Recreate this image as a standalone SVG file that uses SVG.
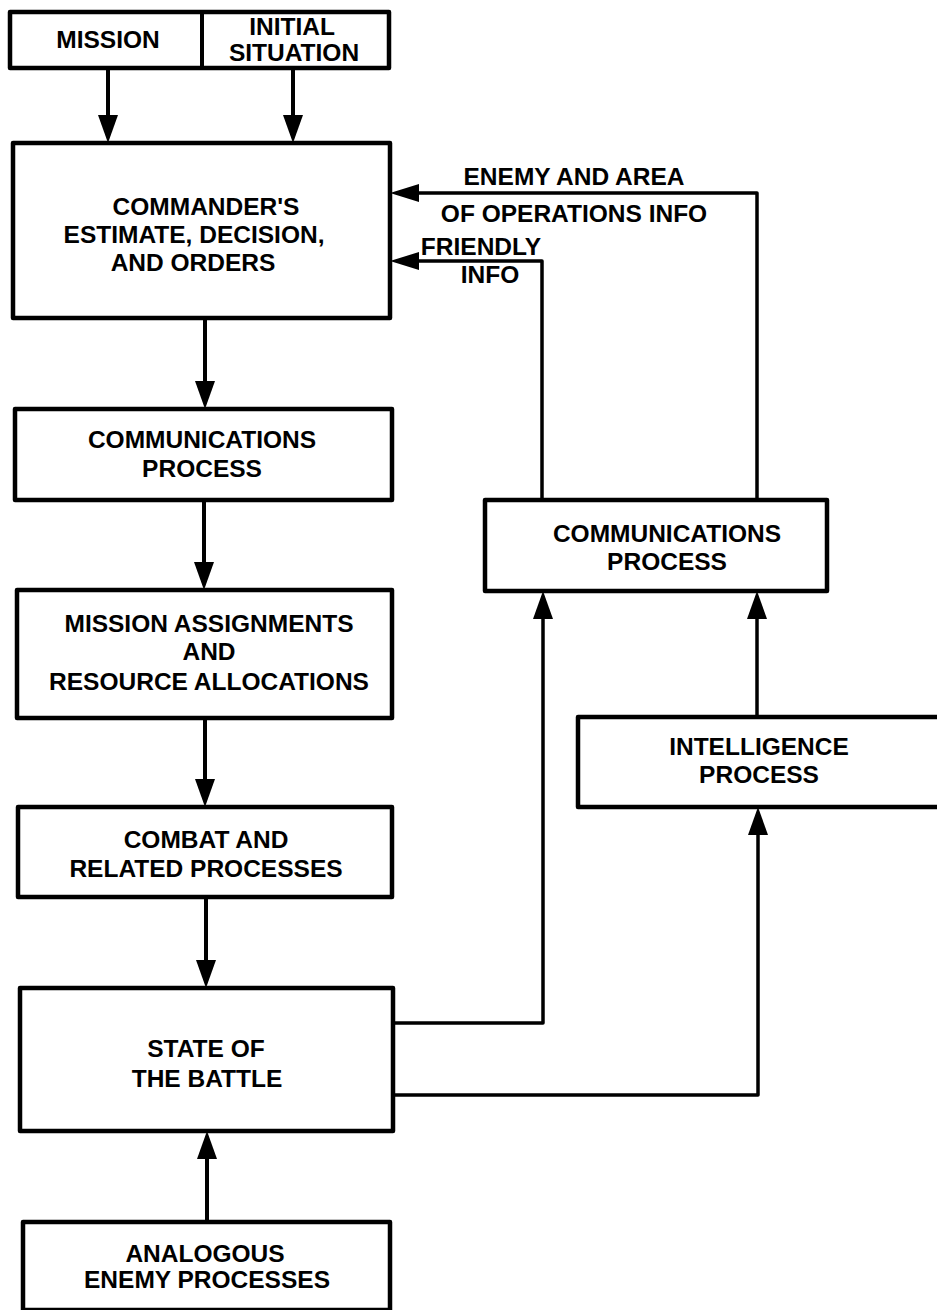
<svg xmlns="http://www.w3.org/2000/svg" width="937" height="1310" viewBox="0 0 937 1310">
  <style>
    .box { fill: #fff; stroke: #000; stroke-width: 4.5; stroke-linejoin: round; }
    .wire { fill: none; stroke: #000; stroke-width: 4; stroke-linejoin: round; }
    .thin { stroke-width: 3.5; }
    text { font-family: "Liberation Sans", Arial, Helvetica, sans-serif; font-weight: bold; font-size: 24.5px; fill: #000; text-anchor: middle; }
  </style>
  <defs>
    <marker id="arr" markerUnits="userSpaceOnUse" markerWidth="28" markerHeight="20" viewBox="0 0 28 20" refX="18" refY="10" orient="auto">
      <path d="M0,0 L28,10 L0,20 z" fill="#000"/>
    </marker>
    <marker id="arrSide" markerUnits="userSpaceOnUse" markerWidth="29" markerHeight="18" viewBox="0 0 29 18" refX="19" refY="9" orient="auto">
      <path d="M0,0 L29,9 L0,18 z" fill="#000"/>
    </marker>
  </defs>

  <rect width="937" height="1310" fill="#fff"/>

  <!-- connectors -->
  <g id="connectors">
    <line class="wire" x1="108" y1="68" x2="108" y2="133" marker-end="url(#arr)"/>
    <line class="wire" x1="293" y1="68" x2="293" y2="133" marker-end="url(#arr)"/>
    <line class="wire" x1="205" y1="318" x2="205" y2="399" marker-end="url(#arr)"/>
    <line class="wire" x1="204" y1="500" x2="204" y2="580" marker-end="url(#arr)"/>
    <line class="wire" x1="205" y1="718" x2="205" y2="797" marker-end="url(#arr)"/>
    <line class="wire" x1="206" y1="897" x2="206" y2="978" marker-end="url(#arr)"/>
    <line class="wire" x1="207" y1="1222" x2="207" y2="1141" marker-end="url(#arr)"/>
    <!-- feedback to the commander -->
    <polyline class="wire thin" points="757,500 757,193 400,193" marker-end="url(#arrSide)"/>
    <polyline class="wire thin" points="542,500 542,261 400,261" marker-end="url(#arrSide)"/>
    <!-- state of the battle outputs -->
    <polyline class="wire thin" points="393,1023 543,1023 543,601" marker-end="url(#arr)"/>
    <polyline class="wire thin" points="393,1095 758,1095 758,817" marker-end="url(#arr)"/>
    <line class="wire thin" x1="757" y1="717" x2="757" y2="601" marker-end="url(#arr)"/>
  </g>

  <!-- link labels -->
  <g id="labels">
    <text x="574" y="185">ENEMY AND AREA</text>
    <text x="574" y="222">OF OPERATIONS INFO</text>
    <text x="481" y="255">FRIENDLY</text>
    <text x="490" y="283">INFO</text>
  </g>

  <g id="mission-initial">
    <rect class="box" x="10" y="12" width="379" height="56"/>
    <line class="wire" x1="202" y1="12" x2="202" y2="68"/>
    <text x="108" y="48">MISSION</text>
    <text x="292" y="35">INITIAL</text>
    <text x="294" y="61">SITUATION</text>
  </g>

  <g id="commander">
    <rect class="box" x="13" y="143" width="377" height="175"/>
    <text x="206" y="215">COMMANDER'S</text>
    <text x="194" y="243">ESTIMATE, DECISION,</text>
    <text x="193" y="271">AND ORDERS</text>
  </g>

  <g id="comms-left">
    <rect class="box" x="15" y="409" width="377" height="91"/>
    <text x="202" y="448">COMMUNICATIONS</text>
    <text x="202" y="477">PROCESS</text>
  </g>

  <g id="mission-assignments">
    <rect class="box" x="17" y="590" width="375" height="128"/>
    <text x="209" y="632">MISSION ASSIGNMENTS</text>
    <text x="209" y="660">AND</text>
    <text x="209" y="690">RESOURCE ALLOCATIONS</text>
  </g>

  <g id="combat">
    <rect class="box" x="18" y="807" width="374" height="90"/>
    <text x="206" y="848">COMBAT AND</text>
    <text x="206" y="877">RELATED PROCESSES</text>
  </g>

  <g id="state-of-battle">
    <rect class="box" x="20" y="988" width="373" height="143"/>
    <text x="206" y="1057">STATE OF</text>
    <text x="207" y="1087">THE BATTLE</text>
  </g>

  <g id="enemy-processes">
    <rect class="box" x="23" y="1222" width="367" height="88"/>
    <text x="205" y="1262">ANALOGOUS</text>
    <text x="207" y="1288">ENEMY PROCESSES</text>
  </g>

  <g id="comms-right">
    <rect class="box" x="485" y="500" width="342" height="91"/>
    <text x="667" y="542">COMMUNICATIONS</text>
    <text x="667" y="570">PROCESS</text>
  </g>

  <g id="intelligence">
    <rect class="box" x="578" y="717" width="380" height="90"/>
    <text x="759" y="755">INTELLIGENCE</text>
    <text x="759" y="783">PROCESS</text>
  </g>
</svg>
